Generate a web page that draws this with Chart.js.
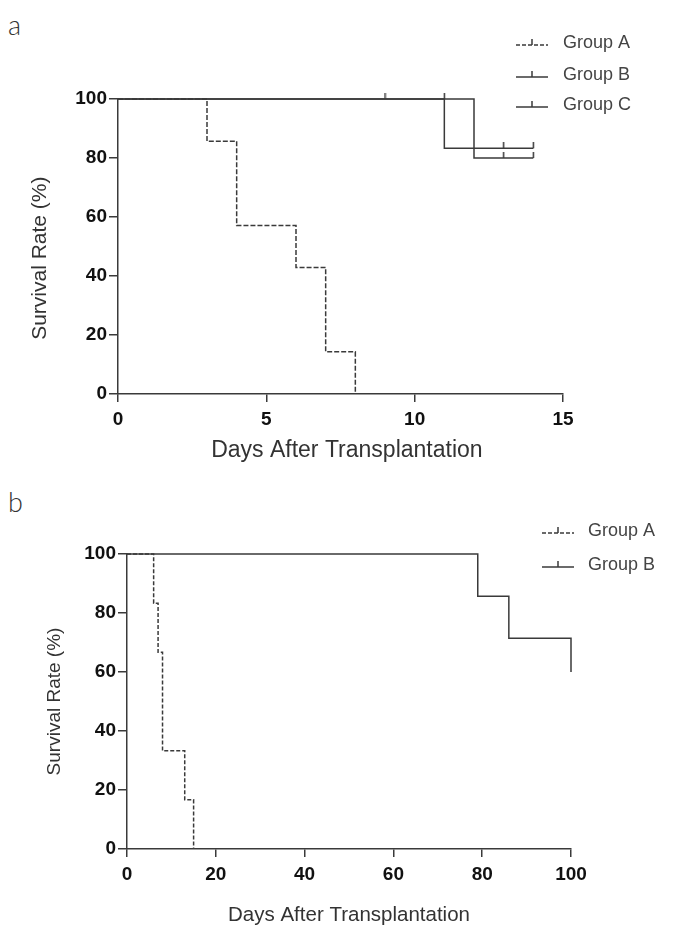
<!DOCTYPE html>
<html>
<head>
<meta charset="utf-8">
<script src="https://cdn.jsdelivr.net/npm/chart.js@4"></script>
<style>
  body { margin: 0; background: #fff; width: 678px; height: 949px; position: relative; overflow: hidden; font-family: Arial, "Liberation Sans", sans-serif; }
  .panel { position: absolute; left: 0; width: 678px; }
  .tag { position: absolute; left: 8px; font-family: Lato, sans-serif; font-weight: 300; font-size: 27px; line-height: 1; color: #333; }
</style>
</head>
<body>
<div class="tag" style="top:11px">a</div>
<div class="panel" style="top:0;height:480px"><canvas id="chartTop"></canvas></div>
<div class="tag" style="top:488px">b</div>
<div class="panel" style="top:480px;height:469px"><canvas id="chartBottom"></canvas></div>

<script>
// panel a
const topDaysA = [0, 3, 4, 6, 7, 8];
const topSurvA = [100, 85.7, 57.1, 42.9, 14.3, 0];
const topDaysB = [0, 11, 13, 14];
const topSurvB = [100, 83.3, 83.3, 83.3];
const topCensorB = [13, 14];
const topDaysC = [0, 9, 11, 12, 13, 14];
const topSurvC = [100, 100, 100, 80, 80, 80];
const topCensorC = [9, 11, 13, 14];

// panel b
const botDaysA = [0, 6, 7, 8, 13, 15];
const botSurvA = [100, 83.3, 66.7, 33.3, 16.7, 0];
const botDaysB = [0, 79, 86, 100];
const botSurvB = [100, 85.7, 71.4, 60];

const topGroups = ['Group A', 'Group B', 'Group C'];
const botGroups = ['Group A', 'Group B'];
const yTicks = [0, 20, 40, 60, 80, 100];
const topXTicks = [0, 5, 10, 15];
const botXTicks = [0, 20, 40, 60, 80, 100];

const lineColor = '#3a3a3a';
const fontFamily = 'Arial, "Liberation Sans", Helvetica, sans-serif';
Chart.defaults.font.family = fontFamily;

function toPoints(days, surv, censor = []) {
  return days.map((d, i) => ({ x: d, y: surv[i], c: censor.includes(d) }));
}

// small upward tick used for censored cases
function tickMark(h) {
  const c = document.createElement('canvas');
  c.width = 3; c.height = h * 2;
  const g = c.getContext('2d');
  g.strokeStyle = lineColor; g.lineWidth = 1.5;
  g.beginPath(); g.moveTo(1.5, 0); g.lineTo(1.5, h); g.stroke();
  return c;
}
const censorTick = tickMark(6);

function dataset(label, points, dash) {
  return {
    label,
    data: points,
    stepped: 'before',
    borderColor: lineColor,
    borderWidth: 1.5,
    borderDash: dash || [],
    pointStyle: censorTick,
    pointRadius: ctx => (ctx.raw && ctx.raw.c ? 4 : 0),
    clip: false,
    fill: false
  };
}

const kmLegend = {
  id: 'kmLegend',
  afterDraw(chart, args, opts) {
    const ctx = chart.ctx;
    chart.data.datasets.forEach((ds, i) => {
      const y = opts.ys[i];
      const ly = y + 2;
      ctx.save();
      ctx.strokeStyle = lineColor;
      ctx.lineWidth = 1.5;
      ctx.setLineDash(opts.dashes[i]);
      ctx.beginPath(); ctx.moveTo(opts.x, ly); ctx.lineTo(opts.x + opts.w, ly); ctx.stroke();
      ctx.setLineDash([]);
      const mx = opts.x + opts.w / 2;
      ctx.beginPath(); ctx.moveTo(mx, ly); ctx.lineTo(mx, ly - 6); ctx.stroke();
      ctx.fillStyle = '#444';
      ctx.font = '18px ' + fontFamily;
      ctx.textBaseline = 'middle';
      ctx.fillText(ds.label, opts.textX, y);
      ctx.restore();
    });
  }
};

function makeOptions(cfg) {
  return {
    responsive: true,
    maintainAspectRatio: false,
    animation: false,
    events: [],
    layout: { padding: cfg.padding },
    plugins: {
      legend: { display: false },
      tooltip: { enabled: false },
      kmLegend: cfg.legend
    },
    scales: {
      x: {
        type: 'linear',
        min: cfg.xMin, max: cfg.xMax,
        afterBuildTicks: s => { s.ticks = cfg.xTicks.map(v => ({ value: v })); },
        afterFit: s => { s.height = cfg.xHeight; },
        border: { display: true, color: lineColor, width: 1.5 },
        grid: { drawOnChartArea: false, drawTicks: true, tickLength: 8, color: lineColor, lineWidth: 1.5 },
        ticks: {
          color: '#111', padding: 6,
          font: { family: fontFamily, size: 19, weight: 'bold' }
        },
        title: {
          display: true, text: cfg.xTitle, color: '#333', padding: 0,
          font: { family: fontFamily, size: cfg.xTitleSize }
        }
      },
      y: {
        type: 'linear',
        min: 0, max: 100,
        afterBuildTicks: s => { s.ticks = yTicks.map(v => ({ value: v })); },
        afterFit: s => { s.width = cfg.yWidth; },
        border: { display: true, color: lineColor, width: 1.5 },
        grid: { drawOnChartArea: false, drawTicks: true, tickLength: 9, color: lineColor, lineWidth: 1.5 },
        ticks: {
          color: '#111', padding: 2,
          font: { family: fontFamily, size: 19, weight: 'bold' }
        },
        title: {
          display: true, text: cfg.yTitle, color: '#333', padding: 0,
          font: { family: fontFamily, size: cfg.yTitleSize }
        }
      }
    }
  };
}

new Chart(document.getElementById('chartTop'), {
  type: 'line',
  data: {
    datasets: [
      dataset(topGroups[0], toPoints(topDaysA, topSurvA), [5, 2]),
      dataset(topGroups[1], toPoints(topDaysB, topSurvB, topCensorB)),
      dataset(topGroups[2], toPoints(topDaysC, topSurvC, topCensorC))
    ]
  },
  options: makeOptions({
    padding: { left: 28, top: 99, right: 115, bottom: 16 },
    xMin: 0, xMax: 15, xTicks: topXTicks,
    xHeight: 70, yWidth: 90,
    // the nbsp's nudge the titles slightly off-centre like in the original figure
    xTitle: '\u00a0\u00a0Days After Transplantation',
    yTitle: 'Survival Rate (%)\u00a0\u00a0\u00a0\u00a0',
    xTitleSize: 23, yTitleSize: 21,
    legend: { x: 516, w: 32, textX: 563, ys: [43, 75, 105], dashes: [[4, 2], [], []] }
  }),
  plugins: [kmLegend]
});

new Chart(document.getElementById('chartBottom'), {
  type: 'line',
  data: {
    datasets: [
      dataset(botGroups[0], toPoints(botDaysA, botSurvA), [4, 2]),
      dataset(botGroups[1], toPoints(botDaysB, botSurvB))
    ]
  },
  options: makeOptions({
    padding: { left: 43, top: 74, right: 107, bottom: 21 },
    xMin: 0, xMax: 100, xTicks: botXTicks,
    xHeight: 79, yWidth: 84,
    xTitle: 'Days After Transplantation',
    yTitle: 'Survival Rate (%)',
    xTitleSize: 20.5, yTitleSize: 19,
    legend: { x: 542, w: 32, textX: 588, ys: [51, 85], dashes: [[4, 2], []] }
  }),
  plugins: [kmLegend]
});
</script>
</body>
</html>
